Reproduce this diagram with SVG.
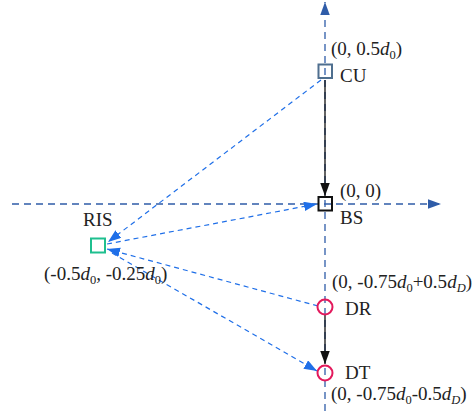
<svg xmlns="http://www.w3.org/2000/svg" width="472" height="411" viewBox="0 0 472 411">
<defs>
<style>
text{font-family:'Liberation Serif','Times New Roman','DejaVu Serif',serif;font-size:19px;fill:#222}
.sub{font-size:12.5px}
.axis{stroke:#2f5ca8;stroke-width:1.3;stroke-dasharray:7 5;fill:none}
.blue{stroke:#1f6fe8;stroke-width:1.2;stroke-dasharray:5 4;fill:none;marker-end:url(#ab)}
.black{stroke:#111;stroke-width:1.3;fill:none;marker-end:url(#ak)}
.sq{fill:none;stroke-width:2}
.circ{fill:none;stroke:#e3195c;stroke-width:2}
</style>
<marker id="aa" markerUnits="userSpaceOnUse" markerWidth="14" markerHeight="10" refX="13" refY="4.75" orient="auto"><path d="M0,0 L13,4.75 L0,9.5 z" fill="#2f5ca8"/></marker>
<marker id="ab" markerUnits="userSpaceOnUse" markerWidth="14" markerHeight="10" refX="13" refY="4.75" orient="auto"><path d="M0,0 L13,4.75 L0,9.5 z" fill="#1f6fe8"/></marker>
<marker id="ak" markerUnits="userSpaceOnUse" markerWidth="14" markerHeight="10" refX="13" refY="4.75" orient="auto"><path d="M0,0 L13,4.75 L0,9.5 z" fill="#111"/></marker>
</defs>
<g id="axes">
<line class="axis" x1="12" y1="204" x2="441" y2="204" marker-end="url(#aa)"/>
<line class="axis" x1="325" y1="411" x2="325" y2="2" marker-end="url(#aa)"/>
</g>
<g id="connectors">
<line class="black" x1="325" y1="80" x2="325" y2="196"/>
<line class="black" x1="325" y1="315" x2="325" y2="364"/>
<line class="blue" x1="321" y1="80" x2="108" y2="242"/>
<line class="blue" x1="107" y1="244" x2="317" y2="204"/>
<line class="blue" x1="318" y1="306" x2="107" y2="249"/>
<line class="blue" x1="112" y1="253" x2="317" y2="371"/>
</g>
<g id="CU">
<rect class="sq" x="318.5" y="64.5" width="13.5" height="13.5" stroke="#4f6f8f"/>
<text x="340" y="82">CU</text>
<text x="331" y="55">(0, 0.5<tspan font-style="italic">d</tspan><tspan class="sub" dy="4">0</tspan><tspan dy="-4">)</tspan></text>
</g>
<g id="BS">
<rect class="sq" x="318.5" y="197" width="13.5" height="13.5" stroke="#111"/>
<text x="340" y="197">(0, 0)</text>
<text x="340" y="224">BS</text>
</g>
<g id="RIS">
<rect class="sq" x="91" y="238.5" width="14" height="14" stroke="#1fbf8f"/>
<text x="83" y="226">RIS</text>
<text x="44" y="280">(-0.5<tspan font-style="italic">d</tspan><tspan class="sub" dy="4">0</tspan><tspan dy="-4">, -0.25</tspan><tspan font-style="italic">d</tspan><tspan class="sub" dy="4">0</tspan><tspan dy="-4">)</tspan></text>
</g>
<g id="DR">
<circle class="circ" cx="325" cy="307" r="7.5"/>
<text x="345" y="315">DR</text>
<text x="332" y="288">(0, -0.75<tspan font-style="italic">d</tspan><tspan class="sub" dy="4">0</tspan><tspan dy="-4">+0.5</tspan><tspan font-style="italic">d</tspan><tspan class="sub" font-style="italic" dy="4">D</tspan><tspan dy="-4">)</tspan></text>
</g>
<g id="DT">
<circle class="circ" cx="325" cy="373" r="7.5"/>
<text x="345" y="379">DT</text>
<text x="331" y="400">(0, -0.75<tspan font-style="italic">d</tspan><tspan class="sub" dy="4">0</tspan><tspan dy="-4">-0.5</tspan><tspan font-style="italic">d</tspan><tspan class="sub" font-style="italic" dy="4">D</tspan><tspan dy="-4">)</tspan></text>
</g>
</svg>
